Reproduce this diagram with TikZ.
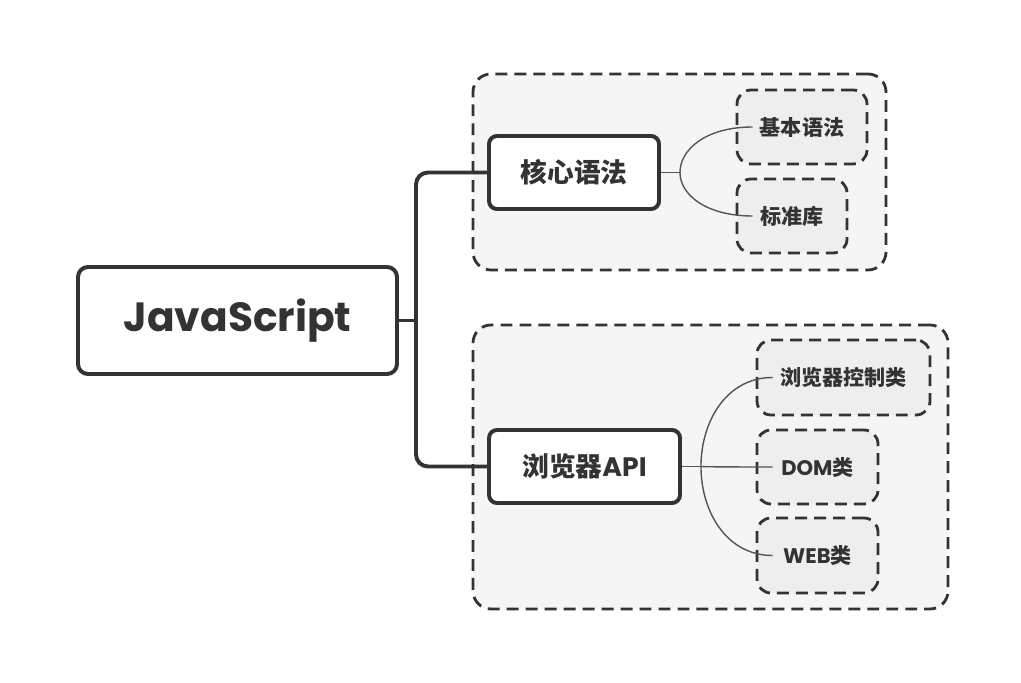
\documentclass[tikz,border=0pt]{standalone}
\usepackage{fontspec}
\setmainfont{Poppins}
\newfontfamily\cjk{Noto Sans CJK SC}
\usepackage{tikz}
\usetikzlibrary{positioning,calc}
\definecolor{inkcol}{HTML}{333333}
\definecolor{twigcol}{HTML}{555555}
\definecolor{grpcol}{HTML}{F5F5F5}
\definecolor{leafcol}{HTML}{EEEEEE}

\begin{document}
\begin{tikzpicture}[
  root/.style={draw=inkcol, line width=2.8pt, rounded corners=0.25cm, fill=white,
               minimum width=7.975cm, minimum height=2.675cm, inner sep=0pt,
               text=inkcol, font=\fontsize{29}{32}\selectfont\bfseries},
  topic/.style={draw=inkcol, line width=2.8pt, rounded corners=0.2cm, fill=white,
                minimum height=1.825cm, inner sep=0pt,
                text=inkcol, font=\fontsize{19}{22}\selectfont\bfseries},
  grp/.style={draw=inkcol, line width=2pt, dash pattern=on 8.5pt off 5pt,
              rounded corners=0.45cm, fill=grpcol, inner sep=0pt},
  leaf/.style={draw=inkcol, line width=2pt, dash pattern=on 8.5pt off 5pt,
               rounded corners=0.35cm, fill=leafcol, minimum height=1.85cm, inner sep=0pt,
               text=inkcol, font=\fontsize{15}{18}\selectfont\bfseries},
  trunk/.style={draw=inkcol, line width=2.8pt, rounded corners=0.3cm},
  twig/.style={draw=twigcol, line width=1pt}
]
  \useasboundingbox (0,0) rectangle (25.525,17.05);

  % group backgrounds
  \node[grp, minimum width=10.325cm, minimum height=4.9cm] (g1) at (16.9875,12.75) {};
  \node[grp, minimum width=11.875cm, minimum height=7.1cm] (g2) at (17.7625,5.375) {};

  \node[root] (js) at (5.9375,9.0375) {JavaScript};
  \node[topic, minimum width=4.25cm] (core) at (14.35,12.7375) {\cjk 核心语法};
  \node[topic, minimum width=4.775cm] (bapi) at (14.6125,5.3875) {{\cjk 浏览器}API};

  \node[leaf, minimum width=3.25cm] (syntax) at (20.05,13.875) {\cjk 基本语法};
  \node[leaf, minimum width=2.75cm] (stdlib) at (19.8,11.65) {\cjk 标准库};
  \node[leaf, minimum width=4.325cm, minimum height=1.875cm] (ctrl) at (21.0875,7.6125) {\cjk 浏览器控制类};
  \node[leaf, minimum width=3.025cm] (dom) at (20.4375,5.375) {DOM{\cjk 类}};
  \node[leaf, minimum width=3.025cm, minimum height=1.875cm] (web) at (20.4375,3.1625) {WEB{\cjk 类}};

  % trunk
  \coordinate (spine) at (10.4,9.0375);
  \draw[trunk] (js.east) -- (spine);
  \draw[trunk] (core.west) -| (spine) |- (bapi.west);

  % twigs
  \coordinate (f1) at ($(core.east)+(0.475,0)$);
  \coordinate (f2) at ($(bapi.east)+(0.475,0)$);
  \draw[twig] (core.east) -- (f1);
  \draw[twig] (bapi.east) -- (f2);
  \foreach \f/\t in {f1/syntax, f1/stdlib, f2/ctrl, f2/dom, f2/web}{
    \coordinate (end) at ($(\t.west)+(0.425,0)$);
    \draw[twig] (\f) .. controls ($(\f)!0.5!(\f |- end)$) and ($(\f |- end)!0.35!(end)$) .. (end);
  }
\end{tikzpicture}
\end{document}
